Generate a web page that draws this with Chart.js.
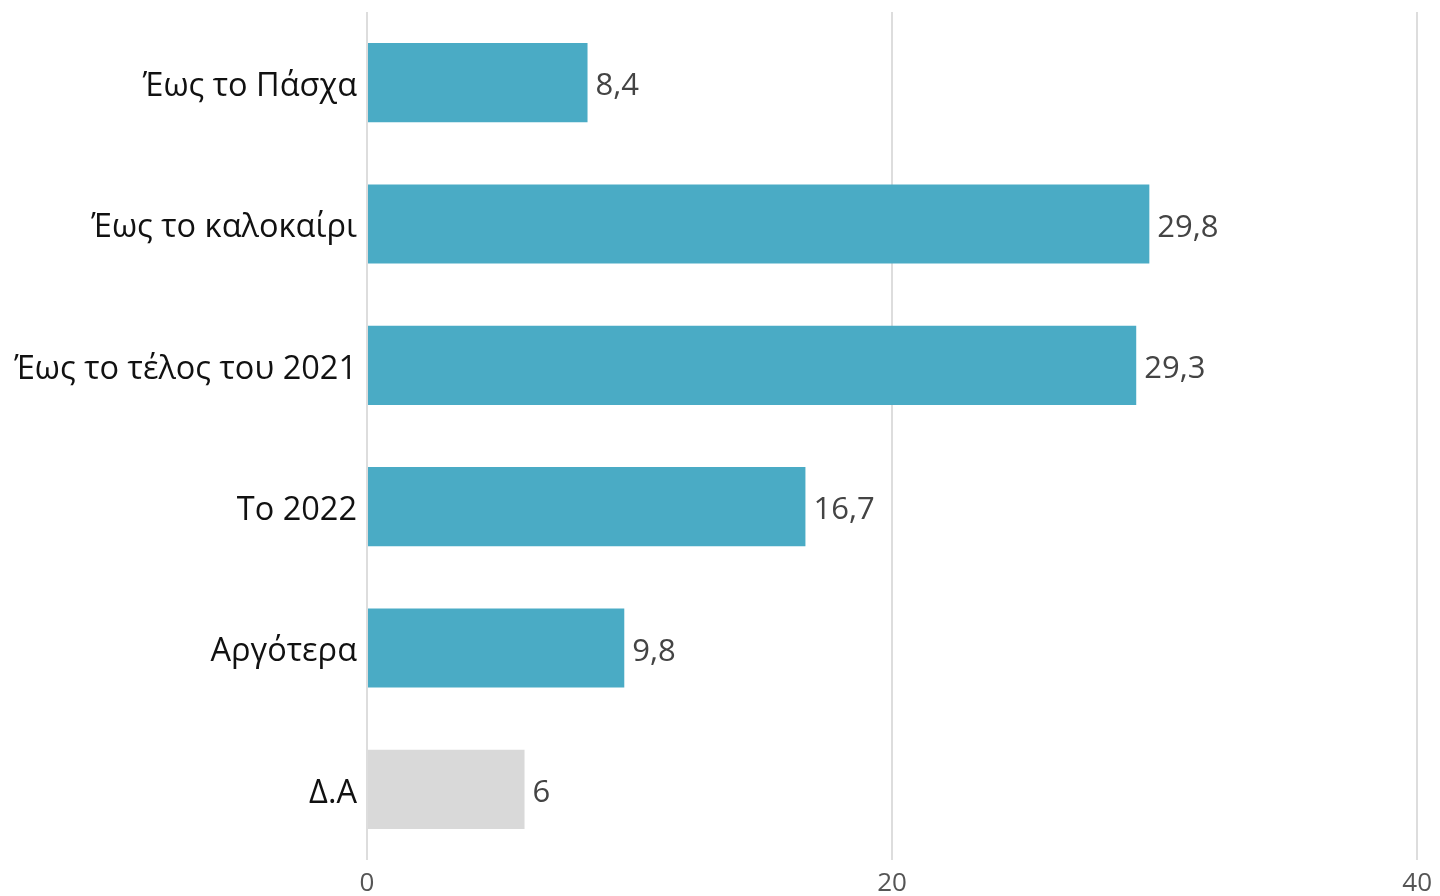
<!DOCTYPE html>
<html>
<head>
<meta charset="utf-8">
<script src="https://cdn.jsdelivr.net/npm/chart.js@4"></script>
<style>
  html, body { margin: 0; padding: 0; background: #fff; }
  #wrap { width: 1440px; height: 896px; }
</style>
</head>
<body>
<div id="wrap"><canvas id="timingChart" width="1440" height="896"></canvas></div>
<script>
const categories = ['Έως το Πάσχα', 'Έως το καλοκαίρι', 'Έως το τέλος του 2021', 'Το 2022', 'Αργότερα', 'Δ.Α'];
const shares = [8.4, 29.8, 29.3, 16.7, 9.8, 6];
const xTicks = [0, 20, 40];

const barColors = shares.map((v, i) => i === shares.length - 1 ? '#d9d9d9' : '#4aabc5');

// write value next to each bar, greek decimal comma
const valueLabels = {
    id: 'valueLabels',
    afterDatasetsDraw(chart) {
        const ctx = chart.ctx;
        const meta = chart.getDatasetMeta(0);
        ctx.save();
        ctx.font = '31px "Open Sans"';
        ctx.fillStyle = '#444';
        ctx.textAlign = 'left';
        ctx.textBaseline = 'middle';
        meta.data.forEach((bar, i) => {
            const txt = String(shares[i]).replace('.', ',');
            ctx.fillText(txt, bar.x + 8, bar.y + 4);
        });
        ctx.restore();
    }
};

new Chart(document.getElementById('timingChart'), {
    type: 'bar',
    data: {
        labels: categories,
        datasets: [{
            data: shares,
            backgroundColor: barColors,
            borderWidth: 0,
            barPercentage: 0.56,
            categoryPercentage: 1
        }]
    },
    options: {
        indexAxis: 'y',
        responsive: false,
        animation: false,
        layout: { padding: { top: 12, right: 22, left: 0, bottom: 0 } },
        plugins: { legend: { display: false }, tooltip: { enabled: false } },
        scales: {
            x: {
                min: 0,
                max: 40,
                afterBuildTicks: axis => { axis.ticks = xTicks.map(v => ({ value: v })); },
                afterFit: axis => { axis.height = 36; },
                grid: { color: '#dddddd', lineWidth: 2, drawTicks: false },
                border: { display: false },
                ticks: { color: '#555', font: { family: 'Open Sans', size: 26 }, padding: 8 }
            },
            y: {
                afterFit: axis => { axis.width = 367; axis.paddingTop = 0; axis.paddingBottom = 0; },
                grid: { display: false, drawTicks: false },
                border: { display: false },
                ticks: { color: '#111', font: { family: 'Open Sans', size: 32.5 }, padding: 10, labelOffset: 4 }
            }
        }
    },
    plugins: [valueLabels]
});
</script>
</body>
</html>
